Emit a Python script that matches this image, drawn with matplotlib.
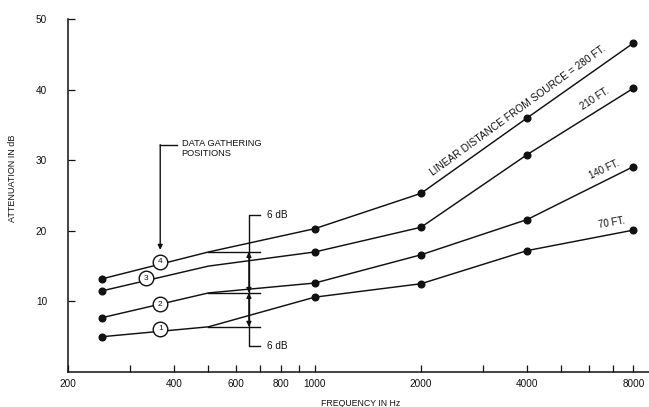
import matplotlib
matplotlib.use("Agg")
import matplotlib.pyplot as plt
from matplotlib.ticker import NullLocator

plt.rcParams['font.family'] = ['Liberation Sans', 'DejaVu Sans']

# ---- data ----
freqs = [250, 500, 1000, 2000, 4000, 8000]
atten_70ft = [5.0, 6.4, 10.6, 12.5, 17.2, 20.1]
atten_140ft = [7.7, 11.2, 12.6, 16.6, 21.6, 29.1]
atten_210ft = [11.5, 15.0, 17.0, 20.5, 30.8, 40.2]
atten_280ft = [13.2, 17.0, 20.3, 25.3, 36.0, 46.6]
series = [atten_70ft, atten_140ft, atten_210ft, atten_280ft]
series_labels = ["70 FT.", "140 FT.", "210 FT.", "LINEAR DISTANCE FROM SOURCE = 280 FT."]

pos_numbers = ["1", "2", "3", "4"]
pos_freqs = [365, 365, 333, 365]
pos_values = [6.1, 9.6, 13.3, 15.6]

xtick_values = [200, 300, 400, 500, 600, 700, 800, 900, 1000, 2000, 3000, 4000,
                5000, 6000, 7000, 8000]
xtick_labels = ["200", "", "400", "", "600", "", "800", "", "1000", "2000", "",
                "4000", "", "", "", "8000"]
ytick_values = [10, 20, 30, 40, 50]
ytick_labels = ["10", "20", "30", "40", "50"]

W, H = 649, 407
fig = plt.figure(figsize=(W / 100, H / 100), dpi=100)
ax = fig.add_axes([68 / W, 35 / H, 599.7 / W, 353 / H])
ax.set_xscale('log')
ax.set_xlim(200, 10000)
ax.set_ylim(0, 50)
ax.xaxis.set_minor_locator(NullLocator())
ax.yaxis.set_minor_locator(NullLocator())
ax.set_xticks(xtick_values, labels=xtick_labels)
ax.set_yticks(ytick_values, labels=ytick_labels)
for s in ['top', 'right']:
    ax.spines[s].set_visible(False)
for s in ['left', 'bottom']:
    ax.spines[s].set_linewidth(1.1)
    ax.spines[s].set_color('#111111')
ax.tick_params(axis='x', direction='in', length=5, width=0.9, labelsize=7.2, pad=5,
               colors='#111111')
ax.tick_params(axis='y', direction='in', length=5, width=0.9, labelsize=7.2, pad=15,
               colors='#111111')

lc = '#111111'
for vals in series:
    ax.plot(freqs, vals, color=lc, lw=1.05, marker='o', markersize=4.8,
            markevery=[0, 2, 3, 4, 5], zorder=3)

# reference wedges from 500 Hz to 700 Hz
for vals in [atten_70ft, atten_140ft, atten_280ft]:
    ax.plot([freqs[1], 700], [vals[1], vals[1]], color=lc, lw=1.0, zorder=3)

# 6 dB bracket
xb = 651
ax.plot([700, xb, xb, 700], [22.2, 22.2, 3.7, 3.7], color=lc, lw=1.0, zorder=3)
for a, b in [(atten_280ft[1], atten_140ft[1]), (atten_140ft[1], atten_70ft[1])]:
    ax.annotate('', xy=(xb, a), xytext=(xb, b),
                arrowprops=dict(arrowstyle='<|-|>', lw=1.0, color=lc,
                                shrinkA=0, shrinkB=0, mutation_scale=7), zorder=4)
ax.text(732, 22.2, "6 dB", fontsize=7.2, ha='left', va='center', color=lc)
ax.text(732, 3.7, "6 dB", fontsize=7.2, ha='left', va='center', color=lc)

# data gathering positions
for n, f, v in zip(pos_numbers, pos_freqs, pos_values):
    ax.plot([f], [v], marker='o', markersize=10.5, mfc='white', mec=lc, mew=1.0,
            zorder=5, linestyle='none')
    ax.text(f, v, n, fontsize=6, ha='center', va='center', color=lc, zorder=6)

ax.plot([407, 365], [32.2, 32.2], color=lc, lw=1.0)
ax.annotate('', xy=(365, 17.3), xytext=(365, 32.2),
            arrowprops=dict(arrowstyle='-|>', lw=1.0, color=lc, shrinkA=0, shrinkB=0,
                            mutation_scale=7))
ax.text(420, 33.0, "DATA GATHERING\nPOSITIONS", fontsize=6.7, ha='left', va='top',
        color=lc, linespacing=1.1)

# curve labels
ax.text(3760, 37.0, series_labels[3], fontsize=7.3, rotation=36, ha='center',
        va='center', rotation_mode='anchor', color=lc)
ax.text(6225, 38.7, series_labels[2], fontsize=7.0, rotation=33, ha='center',
        va='center', rotation_mode='anchor', color=lc)
ax.text(6600, 28.75, series_labels[1], fontsize=7.0, rotation=25, ha='center',
        va='center', rotation_mode='anchor', color=lc)
ax.text(6950, 21.1, series_labels[0], fontsize=7.0, rotation=10, ha='center',
        va='center', rotation_mode='anchor', color=lc)

fig.text(13 / W, 1 - 178 / H, "ATTENUATION IN dB", rotation=90, fontsize=6.5,
         ha='center', va='center', color=lc)
fig.text(361 / W, 1 - 403 / H, "FREQUENCY IN Hz", fontsize=6.3, ha='center',
         va='center', color=lc)

fig.savefig("out.png", dpi=100)
